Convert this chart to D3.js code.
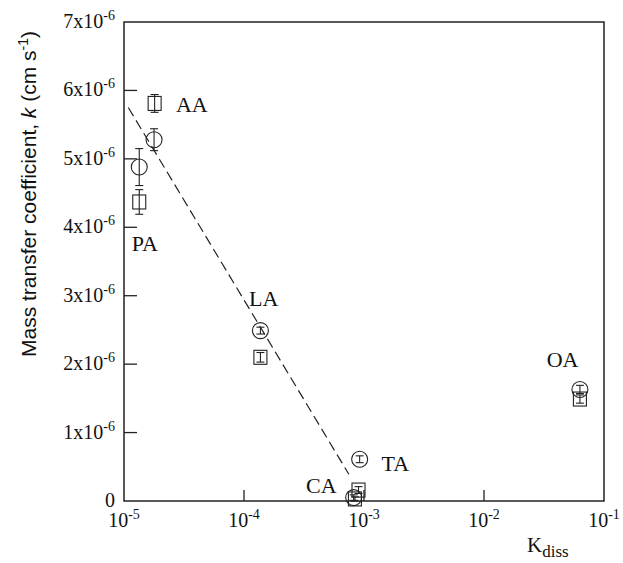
<!DOCTYPE html>
<html>
<head>
<meta charset="utf-8">
<script src="https://cdn.jsdelivr.net/npm/d3@7"></script>
<style>
  body { margin: 0; background: #fff; }
  text { font-family: "Liberation Serif", "Times New Roman", serif; fill: #111; }
</style>
</head>
<body>
<div id="chart"></div>
<script>
// Data (k in units of 1e-6 cm/s)
const acids = ["AA", "PA", "LA", "TA", "CA", "OA"];
const circleK = [1.78e-5, 1.34e-5, 1.37e-4, 9.2e-4, 8.2e-4, 6.3e-2];
const circleVal = [5.28, 4.88, 2.49, 0.61, 0.05, 1.63];
const circleErr = [0.16, 0.27, 0.05, 0.05, 0.04, 0.06];
const squareK = [1.80e-5, 1.34e-5, 1.37e-4, 9.0e-4, 8.4e-4, 6.3e-2];
const squareVal = [5.81, 4.37, 2.10, 0.16, 0.03, 1.49];
const squareErr = [0.13, 0.18, 0.07, 0.05, 0.03, 0.06];

// dashed fit line end points
const fitK = [1.086e-5, 7.48e-4];
const fitVal = [5.75, 0.39];

// label anchors (data coords)
const labelK = [2.71e-5, 1.16e-5, 1.10e-4, 1.40e-3, 3.29e-4, 3.33e-2];
const labelVal = [5.69, 3.66, 2.85, 0.44, 0.12, 1.96];

const xTicks = [1e-5, 1e-4, 1e-3, 1e-2, 1e-1];
const yTicks = [0, 1, 2, 3, 4, 5, 6, 7];

// Set graph margins and dimensions
const W = 623, H = 563;
const margin = { top: 22, right: 19, bottom: 62, left: 124 },
  width = W - margin.left - margin.right,
  height = H - margin.top - margin.bottom;

const x = d3.scaleLog().domain([1e-5, 1e-1]).range([0, width]);
const y = d3.scaleLinear().domain([0, 7]).range([height, 0]);

const svg = d3.select("#chart").append("svg")
  .attr("width", W)
  .attr("height", H);
const g = svg.append("g")
  .attr("transform", "translate(" + margin.left + "," + margin.top + ")");

const ink = "#222";

// frame
g.append("rect")
  .attr("width", width).attr("height", height)
  .attr("fill", "none").attr("stroke", ink).attr("stroke-width", 1.5);

// x ticks (inward) + labels
const xt = g.selectAll(".xt").data(xTicks).enter().append("g")
  .attr("transform", d => "translate(" + x(d) + "," + height + ")");
xt.filter((d, i) => i > 0 && i < xTicks.length - 1).append("line")
  .attr("y1", 0).attr("y2", -11).attr("stroke", ink).attr("stroke-width", 1.3);
const xl = xt.append("text")
  .attr("y", 26).attr("text-anchor", "middle")
  .style("font-size", "20px");
xl.append("tspan").text("10");
xl.append("tspan").attr("dy", -8).style("font-size", "14px")
  .text(d => String(Math.round(Math.log10(d))));

// y ticks (inward) + labels
const yt = g.selectAll(".yt").data(yTicks).enter().append("g")
  .attr("transform", d => "translate(0," + y(d) + ")");
yt.filter(d => d > 0 && d < 7).append("line")
  .attr("x1", 0).attr("x2", 13).attr("stroke", ink).attr("stroke-width", 1.3);
const yl = yt.append("text")
  .attr("x", -9).attr("y", 6).attr("text-anchor", "end")
  .style("font-size", "20px");
yl.filter(d => d === 0).text("0");
yl.filter(d => d > 0).append("tspan").text(d => d + "x10");
yl.filter(d => d > 0).append("tspan").attr("dy", -8).style("font-size", "14px").text("-6");

// dashed fit line
g.append("path")
  .datum(fitK.map((k, i) => [k, fitVal[i]]))
  .attr("d", d3.line().x(d => x(d[0])).y(d => y(d[1])))
  .attr("fill", "none").attr("stroke", ink).attr("stroke-width", 1.2)
  .attr("stroke-dasharray", "10,5");

// error bars
function errBars(ks, vals, errs) {
  const eb = g.append("g").selectAll("g").data(ks).enter().append("g")
    .attr("stroke", ink).attr("stroke-width", 1.1);
  eb.append("line")
    .attr("x1", d => x(d)).attr("x2", d => x(d))
    .attr("y1", (d, i) => y(vals[i] + errs[i])).attr("y2", (d, i) => y(vals[i] - errs[i]));
  eb.append("line")
    .attr("x1", d => x(d) - 4).attr("x2", d => x(d) + 4)
    .attr("y1", (d, i) => y(vals[i] + errs[i])).attr("y2", (d, i) => y(vals[i] + errs[i]));
  eb.append("line")
    .attr("x1", d => x(d) - 4).attr("x2", d => x(d) + 4)
    .attr("y1", (d, i) => y(vals[i] - errs[i])).attr("y2", (d, i) => y(vals[i] - errs[i]));
}

// squares
g.append("g").selectAll("rect").data(squareK).enter().append("rect")
  .attr("x", d => x(d) - 6.5)
  .attr("y", (d, i) => y(squareVal[i]) - 7)
  .attr("width", 13).attr("height", 14)
  .attr("fill", "none").attr("stroke", ink).attr("stroke-width", 1.1);
errBars(squareK, squareVal, squareErr);

// circles
g.append("g").selectAll("circle").data(circleK).enter().append("circle")
  .attr("cx", d => x(d))
  .attr("cy", (d, i) => y(circleVal[i]))
  .attr("r", 8)
  .attr("fill", "none").attr("stroke", ink).attr("stroke-width", 1.1);
errBars(circleK, circleVal, circleErr);

// acid labels
g.selectAll(".lab").data(acids).enter().append("text")
  .attr("x", (d, i) => x(labelK[i]))
  .attr("y", (d, i) => y(labelVal[i]))
  .style("font-size", "22px")
  .text(d => d);

// x axis title
const xTitle = svg.append("text")
  .attr("x", 527).attr("y", 552)
  .style("font-size", "21px");
xTitle.append("tspan").text("K");
xTitle.append("tspan").attr("dy", 5).style("font-size", "17px").text("diss");

// y axis title
const yTitle = svg.append("text")
  .attr("transform", "translate(36," + 194 + ") rotate(-90)")
  .attr("text-anchor", "middle")
  .style("font-family", "'Liberation Sans', Arial, sans-serif")
  .style("font-size", "21px");
yTitle.append("tspan").text("Mass transfer coefficient, ");
yTitle.append("tspan").style("font-style", "italic").text("k");
yTitle.append("tspan").text("  (cm s");
yTitle.append("tspan").attr("dy", -8).style("font-size", "14px").text("-1");
yTitle.append("tspan").attr("dy", 8).text(")");
</script>
</body>
</html>
